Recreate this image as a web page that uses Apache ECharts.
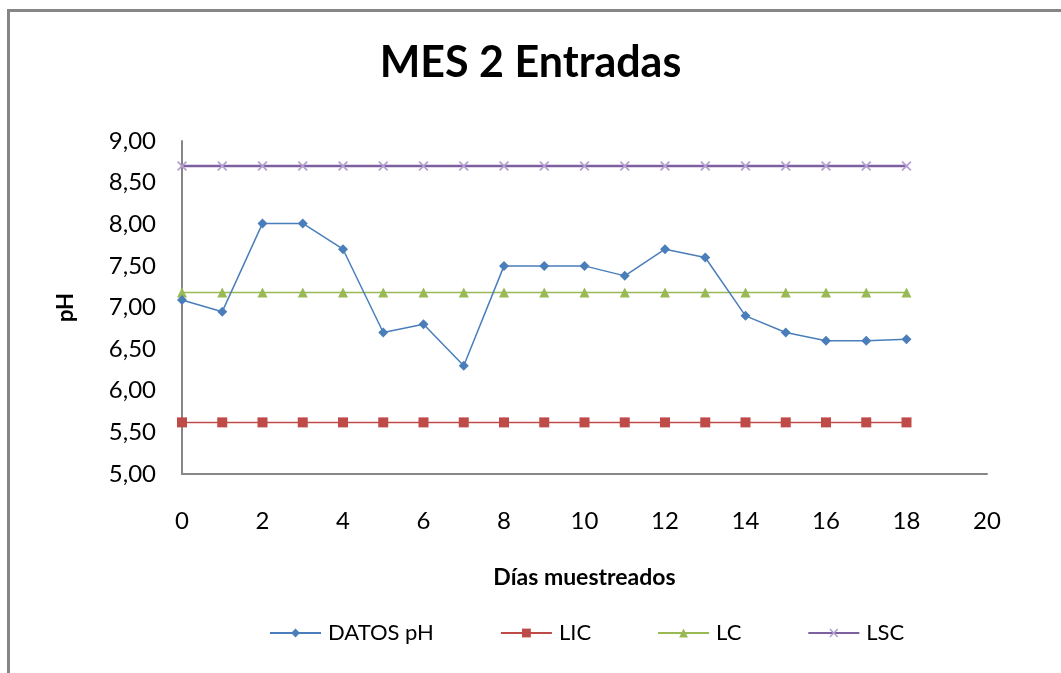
<!DOCTYPE html>
<html>
<head>
<meta charset="utf-8">
<script src="https://cdn.jsdelivr.net/npm/echarts@6/dist/echarts.min.js"></script>
<style>html,body{margin:0;padding:0;background:#fff}#c{width:1061px;height:673px}</style>
</head>
<body>
<div id="c"></div>
<script>
const days = [0,1,2,3,4,5,6,7,8,9,10,11,12,13,14,15,16,17,18];
const datosPH = [7.09,6.95,8.01,8.01,7.70,6.70,6.80,6.30,7.50,7.50,7.50,7.38,7.70,7.60,6.90,6.70,6.60,6.60,6.62];
const lic = [5.62,5.62,5.62,5.62,5.62,5.62,5.62,5.62,5.62,5.62,5.62,5.62,5.62,5.62,5.62,5.62,5.62,5.62,5.62];
const lc = [7.18,7.18,7.18,7.18,7.18,7.18,7.18,7.18,7.18,7.18,7.18,7.18,7.18,7.18,7.18,7.18,7.18,7.18,7.18];
const lsc = [8.70,8.70,8.70,8.70,8.70,8.70,8.70,8.70,8.70,8.70,8.70,8.70,8.70,8.70,8.70,8.70,8.70,8.70,8.70];
const seriesNames = ['DATOS pH','LIC','LC','LSC'];
const titleText = 'MES 2 Entradas';
const xName = 'Días muestreados';
const yName = 'pH';

const pairs = arr => days.map((d,i)=>[d, arr[i]]);
const FONT = 'Lato';
const xSym = 'path://M0,1.2L1.2,0L5,3.8L8.8,0L10,1.2L6.2,5L10,8.8L8.8,10L5,6.2L1.2,10L0,8.8L3.8,5Z';

const chart = echarts.init(document.getElementById('c'), null, {renderer:'canvas'});
chart.setOption({
  backgroundColor:'#fff',
  animation:false,
  graphic:[{type:'rect',shape:{x:8.5,y:10.5,width:1100,height:700},style:{fill:'none',stroke:'#868686',lineWidth:3},silent:true,z:-1}],
  title:{text:titleText,left:'center',top:37,textStyle:{fontFamily:FONT,fontSize:43,fontWeight:'bold',color:'#000'}},
  grid:{left:182,right:74,top:141,bottom:199,containLabel:false},
  legend:{
    data:seriesNames,top:617,left:264,itemWidth:51,itemHeight:11,itemGap:66,
    textStyle:{fontFamily:FONT,fontSize:22,color:'#000',padding:[0,0,0,2]}
  },
  xAxis:{
    type:'value',min:0,max:20,interval:2,
    name:xName,nameLocation:'middle',nameGap:92,nameMoveOverlap:false,
    nameTextStyle:{fontFamily:FONT,fontSize:23,fontWeight:'bold',color:'#000'},
    axisLine:{show:true,lineStyle:{color:'#868686',width:2}},
    axisTick:{show:false},splitLine:{show:false},
    axisLabel:{margin:35,fontFamily:FONT,fontSize:24,color:'#000'}
  },
  yAxis:{
    type:'value',min:5,max:9,interval:0.5,
    name:yName,nameLocation:'middle',nameGap:105,nameMoveOverlap:false,
    nameTextStyle:{fontFamily:FONT,fontSize:22,fontWeight:'bold',color:'#000'},
    axisLine:{show:true,lineStyle:{color:'#868686',width:2}},
    axisTick:{show:false},splitLine:{show:false},
    axisLabel:{margin:26,fontFamily:FONT,fontSize:24,color:'#000',formatter:v=>v.toFixed(2).replace('.',',')}
  },
  series:[
    {name:seriesNames[0],type:'line',data:pairs(datosPH),symbol:'diamond',symbolSize:10,
     lineStyle:{color:'#4a7ebb',width:1.5},itemStyle:{color:'#4a7ebb'},z:5},
    {name:seriesNames[1],type:'line',data:pairs(lic),symbol:'rect',symbolSize:10,
     lineStyle:{color:'#be4b48',width:1.5},itemStyle:{color:'#be4b48'}},
    {name:seriesNames[2],type:'line',data:pairs(lc),symbol:'triangle',symbolSize:10,
     lineStyle:{color:'#98b954',width:1.5},itemStyle:{color:'#98b954'}},
    {name:seriesNames[3],type:'line',data:pairs(lsc),symbol:xSym,symbolSize:10,
     lineStyle:{color:'#7d60a0',width:2.5},itemStyle:{color:'#b49ed0'}}
  ]
});
</script>
</body>
</html>
